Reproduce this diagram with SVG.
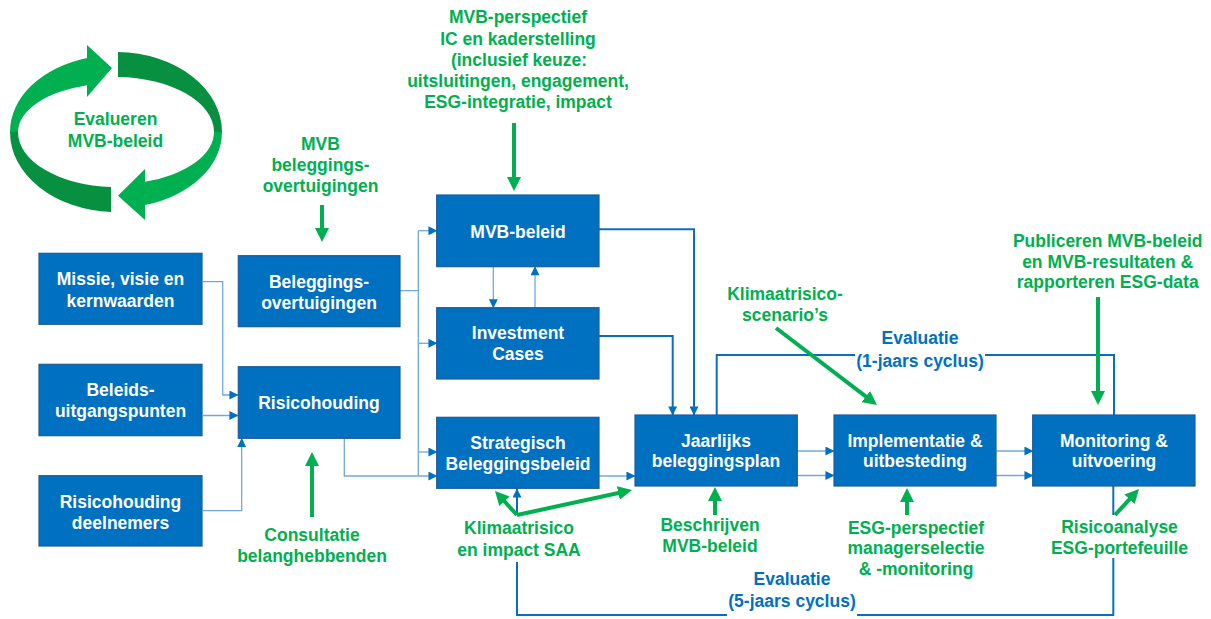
<svg xmlns="http://www.w3.org/2000/svg" width="1211" height="619" viewBox="0 0 1211 619">
  <style>
    .box { fill: #0070C0; stroke: #1F5B96; stroke-width: 1.2; }
    .bt { fill: #FFFFFF; font-family: "Liberation Sans", Arial, sans-serif; font-weight: bold; font-size: 17.5px; text-anchor: middle; }
    .gt { fill: #00B050; font-family: "Liberation Sans", Arial, sans-serif; font-weight: bold; font-size: 17.5px; text-anchor: middle; }
    .lt { fill: #0070C0; font-family: "Liberation Sans", Arial, sans-serif; font-weight: bold; font-size: 17.5px; text-anchor: middle; }
    .thin { fill: none; stroke: #74A8DA; stroke-width: 1.3; }
    .thick { fill: none; stroke: #0A6DBE; stroke-width: 2; }
    .green { fill: none; stroke: #00B050; stroke-width: 4; }
    .ring-light { fill: #00B050; }
    .ring-dark { fill: #07903F; }
  </style>
  <defs>
    <marker id="bArrow" viewBox="0 0 10 10" refX="9.5" refY="5" markerWidth="10" markerHeight="9" markerUnits="userSpaceOnUse" orient="auto">
      <path d="M0,0 L10,5 L0,10 Z" fill="#0070C0"/>
    </marker>
    <marker id="gArrow" viewBox="0 0 14 14" refX="6" refY="7" markerWidth="14" markerHeight="14" markerUnits="userSpaceOnUse" orient="auto">
      <path d="M0,0 L14,7 L0,14 Z" fill="#00B050"/>
    </marker>
  </defs>

  <!-- evaluation cycle -->
  <g id="cycle">
    <path class="ring-light" d="M10,132 A106,77 0 0,1 87,57.9 L87,45 L112,68 L87,97 L87,85.2 A98,49 0 0,0 18,132 Z"/>
    <path class="ring-dark" d="M118,52 A106,80 0 0,1 222,132 L214,132 A98,55 0 0,0 118,77 Z"/>
    <path class="ring-light" d="M222,132 A106,76 0 0,1 145,205.1 L145,220 L118,195.7 L145,169 L145,181.7 A98,52 0 0,0 214,132 Z"/>
    <path class="ring-dark" d="M111,211.9 A106,80 0 0,1 10,132 L18,132 A98,55 0 0,0 111,186.9 Z"/>
    <text class="gt" x="115.5" y="125">Evalueren</text>
    <text class="gt" x="115.5" y="147">MVB-beleid</text>
  </g>

  <!-- connectors -->
  <g id="connectors">
    <path class="thin" d="M203,281.7 H222.7 V395 H238" marker-end="url(#bArrow)"/>
    <path class="thin" d="M203,415.5 H238" marker-end="url(#bArrow)"/>
    <path class="thin" d="M203,510.7 H241.7 V438.5" marker-end="url(#bArrow)"/>
    <path class="thin" d="M400,290.7 H418.3 M418.3,230.7 V476"/>
    <path class="thin" d="M418.3,230.7 H437" marker-end="url(#bArrow)"/>
    <path class="thin" d="M418.3,343.3 H437" marker-end="url(#bArrow)"/>
    <path class="thin" d="M418.3,452 H437" marker-end="url(#bArrow)"/>
    <path class="thin" d="M344.3,438.3 V476 H437" marker-end="url(#bArrow)"/>
    <path class="thin" d="M493.3,266.7 V307.7" marker-end="url(#bArrow)"/>
    <path class="thin" d="M535,307.7 V266.7" marker-end="url(#bArrow)"/>
    <path class="thick" d="M599,229.3 H694 V415" marker-end="url(#bArrow)"/>
    <path class="thick" d="M599,336 H672.7 V415" marker-end="url(#bArrow)"/>
    <path class="thin" d="M599,476 H635" marker-end="url(#bArrow)"/>
    <path class="thin" d="M797,451 H834" marker-end="url(#bArrow)"/>
    <path class="thin" d="M797,475.5 H834" marker-end="url(#bArrow)"/>
    <path class="thin" d="M996,451 H1033" marker-end="url(#bArrow)"/>
    <path class="thin" d="M996,475.5 H1033" marker-end="url(#bArrow)"/>
    <!-- 1-year evaluation loop -->
    <path class="thick" d="M716.7,415 V355 H855 M985,355 H1114 V415"/>
    <!-- 5-year evaluation loop -->
    <path class="thick" d="M1113.3,486 V515 M1113.3,558 V615 H857 M727,615 H517 V562 M517,515 V489" marker-end="url(#bArrow)"/>
    <!-- green input arrows -->
    <path class="green" d="M514,123 V183" marker-end="url(#gArrow)"/>
    <path class="green" d="M322,205 V234" marker-end="url(#gArrow)"/>
    <path class="green" d="M312,517 V460" marker-end="url(#gArrow)"/>
    <path class="green" d="M517,515 L500.4,496.9" marker-end="url(#gArrow)"/>
    <path class="green" d="M517,515 L624.2,491.7" marker-end="url(#gArrow)"/>
    <path class="green" d="M715,515 V495" marker-end="url(#gArrow)"/>
    <path class="green" d="M776,328 L870.6,400.2" marker-end="url(#gArrow)"/>
    <path class="green" d="M1098,297 V397" marker-end="url(#gArrow)"/>
    <path class="green" d="M907,515 V496" marker-end="url(#gArrow)"/>
    <path class="green" d="M1115,515 L1133.6,494.9" marker-end="url(#gArrow)"/>
  </g>

  <!-- process boxes -->
  <g id="missie">
    <rect class="box" x="39" y="253.3" width="163" height="71"/>
    <text class="bt" x="120.5" y="285">Missie, visie en</text>
    <text class="bt" x="120.5" y="306.5">kernwaarden</text>
  </g>
  <g id="beleidsuitgangspunten">
    <rect class="box" x="39" y="364.3" width="163" height="71.4"/>
    <text class="bt" x="120.5" y="396">Beleids-</text>
    <text class="bt" x="120.5" y="417">uitgangspunten</text>
  </g>
  <g id="risicohouding-deelnemers">
    <rect class="box" x="39" y="475.7" width="163" height="70.3"/>
    <text class="bt" x="120.5" y="507.5">Risicohouding</text>
    <text class="bt" x="120.5" y="528.5">deelnemers</text>
  </g>
  <g id="beleggingsovertuigingen">
    <rect class="box" x="238.3" y="255.7" width="161.7" height="71"/>
    <text class="bt" x="319" y="288">Beleggings-</text>
    <text class="bt" x="319" y="308.5">overtuigingen</text>
  </g>
  <g id="risicohouding">
    <rect class="box" x="238.3" y="366.7" width="161.7" height="71.6"/>
    <text class="bt" x="319" y="408.5">Risicohouding</text>
  </g>
  <g id="mvb-beleid">
    <rect class="box" x="436.7" y="195" width="162.3" height="71.7"/>
    <text class="bt" x="518" y="238.3">MVB-beleid</text>
  </g>
  <g id="investment-cases">
    <rect class="box" x="436.7" y="307.7" width="162.3" height="71.3"/>
    <text class="bt" x="518" y="339">Investment</text>
    <text class="bt" x="518" y="360">Cases</text>
  </g>
  <g id="strategisch-beleggingsbeleid">
    <rect class="box" x="436.7" y="417.3" width="162.3" height="71"/>
    <text class="bt" x="518" y="449">Strategisch</text>
    <text class="bt" x="518" y="469.5">Beleggingsbeleid</text>
  </g>
  <g id="jaarlijks-beleggingsplan">
    <rect class="box" x="635" y="415" width="162.3" height="71"/>
    <text class="bt" x="716" y="446.7">Jaarlijks</text>
    <text class="bt" x="716" y="467.3">beleggingsplan</text>
  </g>
  <g id="implementatie">
    <rect class="box" x="834" y="415" width="162" height="71"/>
    <text class="bt" x="915" y="446.7">Implementatie &amp;</text>
    <text class="bt" x="915" y="467.3">uitbesteding</text>
  </g>
  <g id="monitoring">
    <rect class="box" x="1032.7" y="415" width="162.3" height="71"/>
    <text class="bt" x="1114" y="446.7">Monitoring &amp;</text>
    <text class="bt" x="1114" y="467.3">uitvoering</text>
  </g>

  <!-- green annotations -->
  <g id="mvb-perspectief">
    <text class="gt" x="518" y="23.3">MVB-perspectief</text>
    <text class="gt" x="518" y="45">IC en kaderstelling</text>
    <text class="gt" x="519" y="65.5">(inclusief keuze:</text>
    <text class="gt" x="518" y="87">uitsluitingen, engagement,</text>
    <text class="gt" x="518" y="107.5">ESG-integratie, impact</text>
  </g>
  <g id="mvb-overtuigingen">
    <text class="gt" x="320.5" y="150">MVB</text>
    <text class="gt" x="320.5" y="171">beleggings-</text>
    <text class="gt" x="320.5" y="191.5">overtuigingen</text>
  </g>
  <g id="consultatie">
    <text class="gt" x="312" y="541">Consultatie</text>
    <text class="gt" x="312" y="562">belanghebbenden</text>
  </g>
  <g id="klimaatrisico-saa">
    <text class="gt" x="519" y="534">Klimaatrisico</text>
    <text class="gt" x="519" y="555.5">en impact SAA</text>
  </g>
  <g id="beschrijven">
    <text class="gt" x="710" y="531">Beschrijven</text>
    <text class="gt" x="710" y="552">MVB-beleid</text>
  </g>
  <g id="klimaatrisico-scenarios">
    <text class="gt" x="785" y="300">Klimaatrisico-</text>
    <text class="gt" x="785" y="321">scenario’s</text>
  </g>
  <g id="esg-perspectief">
    <text class="gt" x="916" y="533.5">ESG-perspectief</text>
    <text class="gt" x="916" y="554">managerselectie</text>
    <text class="gt" x="916" y="574.5">&amp; -monitoring</text>
  </g>
  <g id="risicoanalyse">
    <text class="gt" x="1119.5" y="533">Risicoanalyse</text>
    <text class="gt" x="1119.5" y="554">ESG-portefeuille</text>
  </g>
  <g id="publiceren">
    <text class="gt" x="1107.7" y="246.7">Publiceren MVB-beleid</text>
    <text class="gt" x="1107.7" y="267.7">en MVB-resultaten &amp;</text>
    <text class="gt" x="1107.7" y="288.3">rapporteren ESG-data</text>
  </g>

  <!-- evaluation labels -->
  <g id="evaluatie-1">
    <text class="lt" x="920" y="344">Evaluatie</text>
    <text class="lt" x="920" y="366.7">(1-jaars cyclus)</text>
  </g>
  <g id="evaluatie-5">
    <text class="lt" x="792" y="585">Evaluatie</text>
    <text class="lt" x="792" y="607">(5-jaars cyclus)</text>
  </g>
</svg>
